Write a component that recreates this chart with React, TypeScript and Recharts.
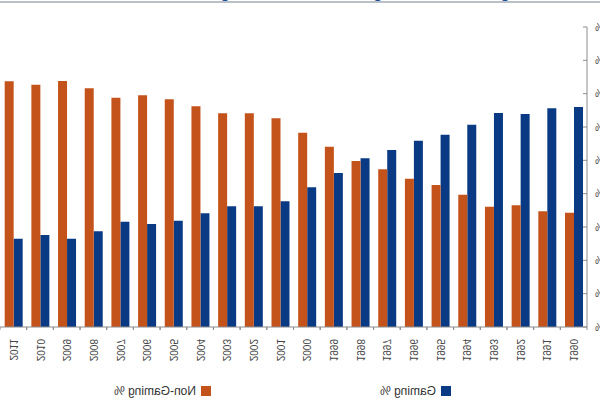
import { BarChart, Bar, XAxis, YAxis } from 'recharts';

// values (share of revenue, %)
const years = [
  '1990', '1991', '1992', '1993', '1994', '1995', '1996', '1997', '1998', '1999', '2000',
  '2001', '2002', '2003', '2004', '2005', '2006', '2007', '2008', '2009', '2010', '2011'
];
const gamingPct = [
  66.0, 65.6, 63.9, 64.2, 60.7, 57.7, 55.9, 53.1, 50.6, 46.2, 41.9,
  37.7, 36.2, 36.2, 34.1, 31.9, 30.9, 31.6, 28.7, 26.5, 27.6, 26.5
];
const nonGamingPct = [
  34.3, 34.7, 36.5, 36.1, 39.7, 42.6, 44.5, 47.3, 49.8, 54.1, 58.3,
  62.6, 64.1, 64.1, 66.2, 68.3, 69.5, 68.8, 71.6, 73.8, 72.7, 73.7
];
const yTicks = [0, 10, 20, 30, 40, 50, 60, 70, 80, 90];

const GAMING = { name: 'Gaming %', color: '#0A3A84' };
const NON_GAMING = { name: 'Non-Gaming %', color: '#C4531B' };

const CHART_W = 640;
const CHART_H = 405;
const Y_AXIS_W = 53;
const TOP = 27;
const X_AXIS_H = 78;
const BAND = (CHART_W - Y_AXIS_W) / years.length;
const AXIS_COLOR = '#8c8c8c';
const FONT = '"Liberation Sans", Arial, sans-serif';

const data = years.map((year, i) => ({
  year,
  gaming: gamingPct[i],
  nonGaming: nonGamingPct[i]
}));

function YearTick({ x, y, payload }: any) {
  const left = x - BAND / 2;
  return (
    <g>
      <line x1={left} x2={left} y1={y} y2={y + 3} stroke={AXIS_COLOR} />
      <line x1={left + BAND} x2={left + BAND} y1={y} y2={y + 3} stroke={AXIS_COLOR} />
      <text
        transform={`translate(${x},${y + 12}) rotate(-90)`}
        textAnchor="end"
        dominantBaseline="central"
        fontSize={10}
        fontFamily={FONT}
        fill="#444"
      >
        {payload.value}
      </text>
    </g>
  );
}

export default function App() {
  return (
    <div
      style={{
        position: 'absolute',
        left: 0,
        top: 0,
        width: 600,
        height: 405,
        overflow: 'hidden',
        background: '#fff',
        transform: 'scaleX(-1)'
      }}
    >
      {/* title, mostly cut off at the top edge */}
      <div
        style={{
          position: 'absolute',
          left: 30,
          top: -15,
          width: 370,
          textAlign: 'center',
          fontFamily: FONT,
          fontWeight: 'bold',
          fontSize: 16,
          lineHeight: '16px',
          color: '#1F4E99',
          whiteSpace: 'nowrap'
        }}
      >
        Gaming vs. Non-Gaming Revenue Percentage
      </div>
      <div style={{ position: 'absolute', left: 0, top: 1, width: 600, height: 2, background: '#B9C0C8' }} />

      <BarChart
        width={CHART_W}
        height={CHART_H}
        data={data}
        margin={{ top: TOP, right: 0, bottom: 0, left: 0 }}
        barGap={0}
        style={{ position: 'absolute', left: -40, top: 0 }}
      >
        <XAxis
          dataKey="year"
          height={X_AXIS_H}
          interval={0}
          tickLine={false}
          tickSize={0}
          tickMargin={0}
          axisLine={{ stroke: AXIS_COLOR }}
          tick={<YearTick />}
        />
        <YAxis
          width={Y_AXIS_W}
          domain={[0, 90]}
          ticks={yTicks}
          tickFormatter={(v) => `${v}%`}
          tickSize={-4}
          tickMargin={12}
          axisLine={{ stroke: AXIS_COLOR }}
          tickLine={{ stroke: AXIS_COLOR }}
          tick={{ fontSize: 10, fill: '#444', fontFamily: FONT }}
        />
        <Bar dataKey="gaming" name={GAMING.name} fill={GAMING.color} barSize={9} isAnimationActive={false} />
        <Bar dataKey="nonGaming" name={NON_GAMING.name} fill={NON_GAMING.color} barSize={9} isAnimationActive={false} />
      </BarChart>

      {/* legend */}
      <div style={{ position: 'absolute', left: 149, top: 384, display: 'flex', fontFamily: FONT, fontSize: 12, color: '#333' }}>
        {[GAMING, NON_GAMING].map((s) => (
          <div key={s.name} style={{ width: 240, display: 'flex', alignItems: 'center' }}>
            <span style={{ width: 10, height: 10, background: s.color, marginRight: 5, display: 'inline-block' }} />
            <span>{s.name}</span>
          </div>
        ))}
      </div>
    </div>
  );
}
